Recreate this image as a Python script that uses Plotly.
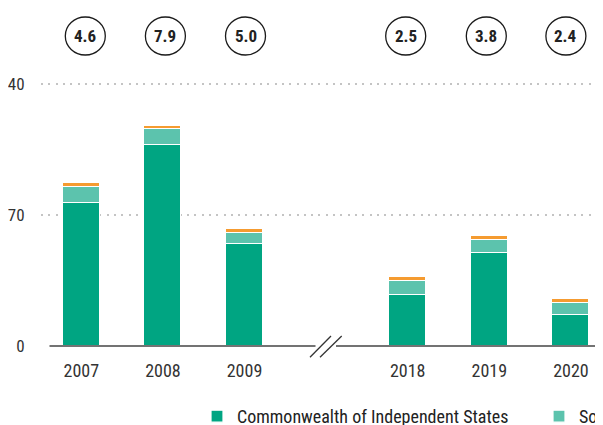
import plotly.graph_objects as go

# ---- data ----
years = ["2007", "2008", "2009", "2018", "2019", "2020"]
xpos = [0, 1, 2, 4, 5, 6]          # gap at 3 for the axis break
cis = [38.2, 53.7, 27.2, 13.6, 24.8, 8.4]
see = [4.3, 4.2, 3.1, 3.9, 3.5, 3.1]
georgia = [1.0, 1.0, 1.0, 1.0, 1.0, 1.0]
circle_values = ["4.6", "7.9", "5.0", "2.5", "3.8", "2.4"]
ytick_vals = [0, 35, 70]
ytick_text = ["0", "70", "40"]

FONT = "Liberation Sans Narrow, Roboto Condensed, Arial Narrow, Liberation Sans, sans-serif"
C_CIS = "#00a582"
C_SEE = "#5cc3ad"
C_GEO = "#f59b30"

fig = go.Figure()
for name, vals, col, lg, show in [
    ("Commonwealth of Independent States", cis, C_CIS, "legend", True),
    ("South-East Europe", see, C_SEE, "legend2", True),
    ("Georgia", georgia, C_GEO, "legend3", False),
]:
    fig.add_trace(go.Bar(
        x=xpos, y=vals, name=name, width=0.455,
        marker=dict(color=col, line=dict(color="white", width=1.2)),
        hoverinfo="skip", legend=lg, showlegend=show,
    ))

OFF = 8  # page body margin
W, H = 603, 425
L, R, T = 41 - OFF, 0, 60 - OFF
B = H - (346 - OFF)
plot_w = W - L - R
plot_h = H - T - B

shapes = []
annotations = []

# circles with numbers above bars
circle_offsets = [4, 2.5, 1, -2, -3, -5]
cy = 1.084
for x, v, off in zip(xpos, circle_values, circle_offsets):
    shapes.append(dict(
        type="circle", xref="x", yref="paper",
        xsizemode="pixel", ysizemode="pixel",
        xanchor=x, yanchor=cy,
        x0=off - 20, x1=off + 20, y0=-19, y1=19,
        line=dict(color="#1a1a1a", width=1.3), fillcolor="rgba(0,0,0,0)",
        layer="above",
    ))
    annotations.append(dict(
        x=x, y=cy, xref="x", yref="paper", text="<b>" + v + "</b>",
        showarrow=False, xshift=off, yanchor="middle", xanchor="center",
        font=dict(family=FONT, size=17, color="#222222"),
    ))

# broken axis line at zero
def px2paper(px):
    return (px - OFF - L) / plot_w

for a, b in [(49.5, 315.5), (336, W + OFF)]:
    shapes.append(dict(type="line", xref="paper", yref="paper",
                       x0=px2paper(a), x1=px2paper(b), y0=0, y1=0,
                       line=dict(color="#444444", width=1.6), layer="above"))
# break slashes
for a, b in [(310, 331), (320, 341.7)]:
    shapes.append(dict(type="line", xref="paper", yref="paper",
                       x0=px2paper(a), x1=px2paper(b),
                       y0=-11.3 / plot_h, y1=10 / plot_h,
                       line=dict(color="#333333", width=1.3), layer="above"))

legend_font = dict(family=FONT, size=18, color="#222222")
leg_y = -52 / plot_h
fig.update_layout(
    width=W, height=H,
    margin=dict(l=L, r=R, t=T, b=B, autoexpand=False),
    paper_bgcolor="white", plot_bgcolor="white",
    barmode="stack", bargap=0,
    font=dict(family=FONT, size=17, color="#333333"),
    showlegend=True,
    legend=dict(orientation="h", x=px2paper(197), y=leg_y,
                xanchor="left", yanchor="top", font=legend_font),
    legend2=dict(orientation="h", x=px2paper(539), y=leg_y,
                 xanchor="left", yanchor="top", font=legend_font),
    shapes=shapes, annotations=annotations,
)
fig.update_xaxes(
    range=[-40.3 / 81.6, -40.3 / 81.6 + plot_w / 81.6],
    tickvals=xpos, ticktext=years,
    showgrid=False, zeroline=False, showline=False,
    ticks="outside", ticklen=8, tickcolor="rgba(0,0,0,0)",
    tickfont=dict(family=FONT, size=18, color="#333333"),
)
fig.update_yaxes(
    range=[0, plot_h / 3.743],
    tickvals=ytick_vals, ticktext=ytick_text,
    showgrid=True, gridcolor="#c4c4c4", gridwidth=2, griddash="2px,5.3px",
    zeroline=False, showline=False,
    ticks="outside", ticklen=12, tickcolor="rgba(0,0,0,0)",
    tickfont=dict(family=FONT, size=17, color="#333333"),
)

fig.write_html("out.html")
